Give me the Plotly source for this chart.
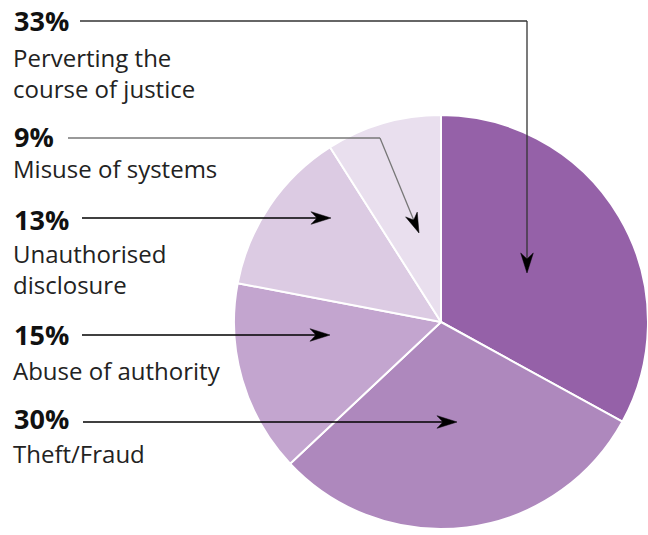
import math
import plotly.graph_objects as go

# ---- data ----
categories = ["Perverting the<br>course of justice", "Theft/Fraud", "Abuse of authority",
              "Unauthorised<br>disclosure", "Misuse of systems"]
values = [33, 30, 15, 13, 9]
colors = ["#9561a8", "#ae88bd", "#c3a5cf", "#dccbe3", "#e9dfee"]

# label layout (pixel coords)
label_pos = {
    "Perverting the<br>course of justice": dict(pct_y=20, name_y=39, path=[(80, 21), (527, 21), (527, 273)], col="#333"),
    "Misuse of systems": dict(pct_y=136, name_y=150, path=[(68, 138), (380, 138), (419, 233)], col="#777"),
    "Unauthorised<br>disclosure": dict(pct_y=219, name_y=235, path=[(82, 218), (331, 218)], col="#000"),
    "Abuse of authority": dict(pct_y=334, name_y=352, path=[(82, 335), (330, 335)], col="#000"),
    "Theft/Fraud": dict(pct_y=418, name_y=435, path=[(83, 422), (457, 422)], col="#000"),
}

W, H = 648, 535
FONT = "Open Sans"

fig = go.Figure()
fig.add_trace(go.Scatter(x=[], y=[], hoverinfo="skip", showlegend=False))

cx, cy, r = 441, 322, 207
fig.add_trace(go.Pie(
    labels=categories, values=values, sort=False, direction="clockwise", rotation=0,
    marker=dict(colors=colors, line=dict(color="white", width=2)),
    textinfo="none", hoverinfo="label+percent", showlegend=False,
    domain=dict(x=[(cx - r) / W, min(1, (cx + r) / W)], y=[(H - (cy + r)) / H, (H - (cy - r)) / H]),
))


def arrowhead_path(tail, tip, length=20, half=6.3, notch=14):
    dx, dy = tip[0] - tail[0], tip[1] - tail[1]
    d = math.hypot(dx, dy)
    ux, uy = dx / d, dy / d
    nx, ny = -uy, ux
    bx, by = tip[0] - ux * length, tip[1] - uy * length
    p1 = (bx + nx * half, by + ny * half)
    p2 = (bx - nx * half, by - ny * half)
    pn = (tip[0] - ux * notch, tip[1] - uy * notch)
    pts = [tip, p1, pn, p2]
    return "M" + "L".join(f"{x:.2f},{y:.2f}" for x, y in pts) + "Z", pn


annotations = []
shapes = []
for cat, v in zip(categories, values):
    p = label_pos[cat]
    annotations.append(dict(x=12, y=p["pct_y"], xref="x", yref="y", text=f"<b>{v}%</b>",
                            showarrow=False, xanchor="left", yanchor="middle",
                            font=dict(family=FONT, size=27, color="#111")))
    annotations.append(dict(x=11, y=p["name_y"], xref="x", yref="y", text=cat,
                            showarrow=False, xanchor="left", yanchor="top", align="left",
                            font=dict(family=FONT, size=24, color="#222")))
    pts = p["path"]
    head, notch_pt = arrowhead_path(pts[-2], pts[-1])
    seg = pts[:-1] + [notch_pt]
    for a, b in zip(seg[:-1], seg[1:]):
        shapes.append(dict(type="line", xref="x", yref="y", layer="above",
                           x0=a[0], y0=a[1], x1=b[0], y1=b[1],
                           line=dict(color=p["col"], width=1.3)))
    shapes.append(dict(type="path", xref="x", yref="y", layer="above", path=head,
                       fillcolor="#000", line=dict(color="#000", width=0.5)))

fig.update_layout(
    width=W, height=H, margin=dict(l=0, r=0, t=0, b=0),
    paper_bgcolor="white", plot_bgcolor="rgba(0,0,0,0)",
    xaxis=dict(range=[0, W], visible=False, fixedrange=True),
    yaxis=dict(range=[H, 0], visible=False, fixedrange=True),
    annotations=annotations, shapes=shapes,
)

fig.write_html("out.html")
